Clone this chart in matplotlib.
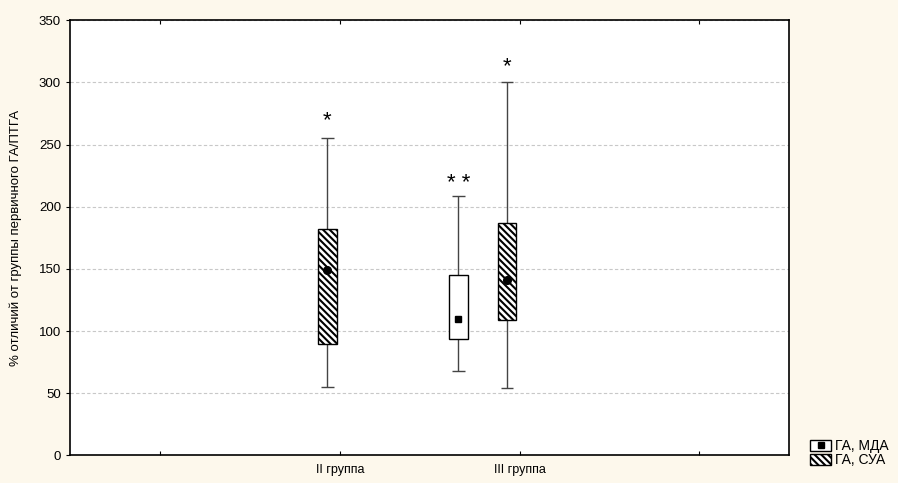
import matplotlib.pyplot as plt
from matplotlib.patches import Patch
from matplotlib.lines import Line2D

plt.rcParams["font.family"] = ["Liberation Sans", "DejaVu Sans"]
plt.rcParams["hatch.linewidth"] = 1.5

# group tick positions and labels (4 slots, two are labelled)
tick_pos = [0.5, 1.5, 2.5, 3.5]
tick_labels = ["", "II группа", "III группа", ""]

# box data: x position, whisker min, Q1, mean, Q3, whisker max, star label
series = ["ГА, МДА", "ГА, СУА", "ГА, СУА"]
xpos = [2.16, 1.43, 2.43]
w_lo = [68, 55, 54]
q1 = [94, 90, 109]
mean = [110, 149, 141]
q3 = [145, 182, 187]
w_hi = [209, 255, 300]
stars = ["* *", "*", "*"]
star_y = [219, 269, 313]

bg = "#fdf8ec"
hatch = "\\\\\\\\\\"
fig = plt.figure(figsize=(8.98, 4.83), dpi=100, facecolor=bg)
ax = fig.add_axes([0.078, 0.057, 0.801, 0.901])
ax.set_facecolor("white")

box_w = 0.105
cap_w = 0.072
for i, name in enumerate(series):
    x = xpos[i]
    hatched = name == "ГА, СУА"
    ax.vlines(x, w_lo[i], q1[i], color="#444444", lw=1.0, zorder=2)
    ax.vlines(x, q3[i], w_hi[i], color="#444444", lw=1.0, zorder=2)
    ax.hlines([w_lo[i], w_hi[i]], x - cap_w / 2, x + cap_w / 2,
              color="#444444", lw=1.0, zorder=2)
    ax.bar(x, q3[i] - q1[i], bottom=q1[i], width=box_w, facecolor="white",
           edgecolor="black", lw=1.0, hatch=hatch if hatched else None,
           zorder=3)
    ax.plot(x, mean[i], marker="o" if hatched else "s", color="black",
            ms=5.5 if hatched else 5, zorder=4)
    ax.text(x, star_y[i], stars[i], ha="center", va="center", fontsize=16,
            zorder=4)

ax.set_xlim(0, 4)
ax.set_ylim(0, 350)
ax.set_yticks(range(0, 351, 50))
ax.set_xticks(tick_pos)
ax.set_xticklabels(tick_labels, fontsize=9)
ax.tick_params(axis="x", direction="in", length=3, top=True, pad=6)
ax.tick_params(axis="y", direction="out", length=3, labelsize=9.5)
ax.yaxis.grid(True, linestyle=(0, (3, 2)), color="#c8c8c8", lw=0.8)
ax.set_axisbelow(True)
for s in ax.spines.values():
    s.set_linewidth(1.2)
ax.set_ylabel("% отличий от группы первичного ГА/ПТГА", fontsize=9.5,
              labelpad=12)

handles = [
    Line2D([0], [0], marker="s", color="black", ms=4, lw=0,
           markeredgecolor="black"),
    Patch(facecolor="white", edgecolor="black", hatch=hatch),
]
legend_box = Patch(facecolor="white", edgecolor="black")
leg = fig.legend([(legend_box, handles[0]), handles[1]], ["ГА, МДА", "ГА, СУА"],
                 loc="lower left", bbox_to_anchor=(0.893, 0.015), frameon=False,
                 fontsize=10, handlelength=1.5, handleheight=0.9,
                 handletextpad=0.3, labelspacing=0.0, borderpad=0.1)

fig.savefig("out.png", dpi=100, facecolor=bg)
